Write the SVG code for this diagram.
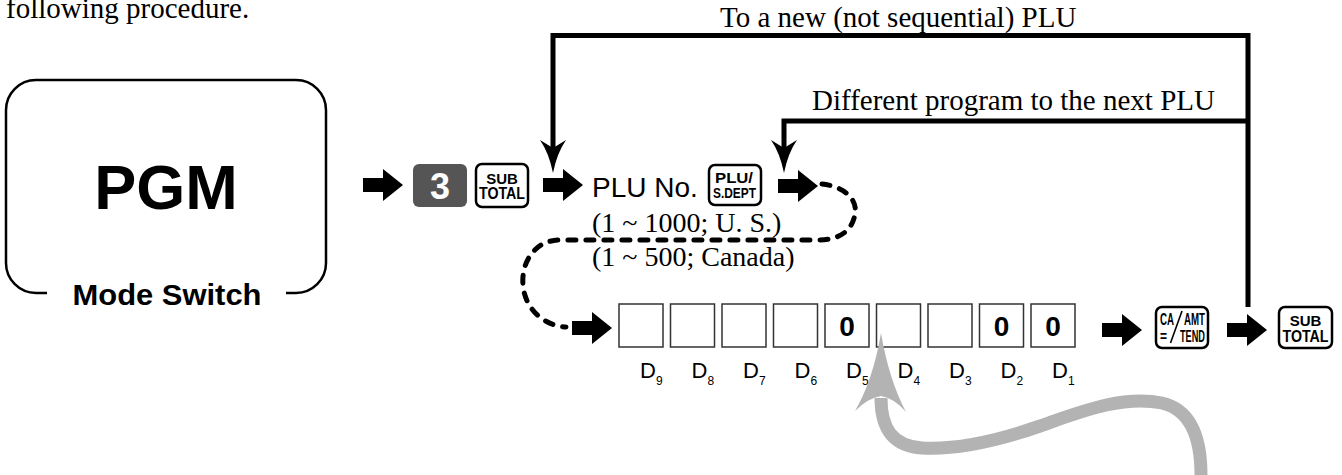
<svg xmlns="http://www.w3.org/2000/svg" xmlns:xlink="http://www.w3.org/1999/xlink" width="1342" height="475" viewBox="0 0 1342 475">
<style>
.serif{font-family:"Liberation Serif","Times New Roman",serif;fill:#000}
.sans{font-family:"Liberation Sans",Arial,sans-serif;fill:#000}
.b{font-weight:bold}
.key{fill:#fff;stroke:#000;stroke-width:2.5}
.box{fill:#fff;stroke:#333;stroke-width:1.5}
.thick{fill:none;stroke:#000;stroke-width:5}
.dash{fill:none;stroke:#000;stroke-width:5;stroke-linecap:round;stroke-dasharray:8 10}
</style>
<defs>
<path id="blk" d="M0,-7 L20,-7 L20,-16 L40,0 L20,16 L20,7 L0,7 Z" fill="#000"/>
<path id="down" d="M0,0 Q-4,-20 -13,-33 L0,-25 L13,-33 Q4,-20 0,0 Z" fill="#000"/>
</defs>
<rect width="1342" height="475" fill="#fff"/>

<text class="serif" x="6" y="18" font-size="29">following procedure.</text>

<g id="mode-switch">
<path d="M47,293 L36,293 A30,30 0 0 1 6,263 L6,110 A30,30 0 0 1 36,80 L296,80 A30,30 0 0 1 326,110 L326,263 A30,30 0 0 1 296,293 L286,293" fill="none" stroke="#000" stroke-width="2.5"/>
<text class="sans b" x="166" y="209" font-size="63" text-anchor="middle">PGM</text>
<text class="sans b" x="167" y="305" font-size="30" text-anchor="middle" textLength="189" lengthAdjust="spacingAndGlyphs">Mode Switch</text>
</g>

<g id="key-3">
<rect x="413" y="164" width="54" height="43" rx="6" fill="#555"/>
<text class="sans b" x="440" y="199" font-size="36" text-anchor="middle" style="fill:#fff">3</text>
</g>

<g id="key-subtotal-1">
<rect class="key" x="476" y="164" width="52" height="43" rx="6"/>
<text class="sans b" x="502" y="184" font-size="15" text-anchor="middle">SUB</text>
<text class="sans b" x="502" y="199" font-size="16" text-anchor="middle" textLength="46" lengthAdjust="spacingAndGlyphs">TOTAL</text>
</g>

<g id="plu-no">
<text class="sans" x="592" y="197" font-size="28">PLU No.</text>
<text class="serif" x="592" y="232" font-size="28">(1 ~ 1000; U. S.)</text>
<text class="serif" x="592" y="266" font-size="28">(1 ~ 500; Canada)</text>
</g>

<g id="key-plu">
<rect class="key" x="709" y="165" width="52" height="40" rx="6"/>
<text class="sans b" x="734" y="183" font-size="15" text-anchor="middle" textLength="38" lengthAdjust="spacingAndGlyphs">PLU/</text>
<text class="sans b" x="734.5" y="198" font-size="15" text-anchor="middle" textLength="43" lengthAdjust="spacingAndGlyphs">S.DEPT</text>
</g>

<g id="digits">
<rect class="box" x="619" y="304" width="44" height="43"/>
<rect class="box" x="670.5" y="304" width="44" height="43"/>
<rect class="box" x="722" y="304" width="44" height="43"/>
<rect class="box" x="773.5" y="304" width="44" height="43"/>
<rect class="box" x="825" y="304" width="44" height="43"/>
<rect class="box" x="876.5" y="304" width="44" height="43"/>
<rect class="box" x="928" y="304" width="44" height="43"/>
<rect class="box" x="979.5" y="304" width="44" height="43"/>
<rect class="box" x="1031" y="304" width="44" height="43"/>
<text class="sans b" x="847" y="335.5" font-size="28" text-anchor="middle">0</text>
<text class="sans b" x="1001.5" y="335.5" font-size="28" text-anchor="middle">0</text>
<text class="sans b" x="1053" y="335.5" font-size="28" text-anchor="middle">0</text>
<g class="sans" font-size="22">
<text x="640" y="378">D<tspan font-size="12" dy="7">9</tspan></text>
<text x="691.5" y="378">D<tspan font-size="12" dy="7">8</tspan></text>
<text x="743" y="378">D<tspan font-size="12" dy="7">7</tspan></text>
<text x="794.5" y="378">D<tspan font-size="12" dy="7">6</tspan></text>
<text x="846" y="378">D<tspan font-size="12" dy="7">5</tspan></text>
<text x="897.5" y="378">D<tspan font-size="12" dy="7">4</tspan></text>
<text x="949" y="378">D<tspan font-size="12" dy="7">3</tspan></text>
<text x="1000.5" y="378">D<tspan font-size="12" dy="7">2</tspan></text>
<text x="1052" y="378">D<tspan font-size="12" dy="7">1</tspan></text>
</g>
</g>

<g id="key-ca">
<rect class="key" x="1156" y="307" width="52" height="41" rx="6"/>
<text class="sans b" x="1160" y="325" font-size="16" textLength="14" lengthAdjust="spacingAndGlyphs">CA</text>
<text class="sans b" x="1184" y="325" font-size="16" textLength="21" lengthAdjust="spacingAndGlyphs">AMT</text>
<text class="sans b" x="1160" y="342" font-size="16" textLength="7" lengthAdjust="spacingAndGlyphs">=</text>
<text class="sans b" x="1180" y="342" font-size="16" textLength="25" lengthAdjust="spacingAndGlyphs">TEND</text>
<line x1="1170.5" y1="343" x2="1182" y2="311" stroke="#000" stroke-width="1.6"/>
</g>

<g id="key-subtotal-2">
<rect class="key" x="1279" y="307" width="53" height="41" rx="6"/>
<text class="sans b" x="1305.5" y="326" font-size="15" text-anchor="middle">SUB</text>
<text class="sans b" x="1305.5" y="342" font-size="16" text-anchor="middle" textLength="46" lengthAdjust="spacingAndGlyphs">TOTAL</text>
</g>

<g id="labels">
<text class="serif" x="720" y="27" font-size="29">To a new (not sequential) PLU</text>
<text class="serif" x="812" y="110" font-size="29">Different program to the next PLU</text>
</g>

<g id="connectors">
<use xlink:href="#blk" x="363" y="185"/>
<use xlink:href="#blk" x="543" y="185"/>
<use xlink:href="#blk" x="778" y="186"/>
<use xlink:href="#blk" x="572" y="328"/>
<use xlink:href="#blk" x="1102" y="330"/>
<use xlink:href="#blk" x="1227" y="330"/>
<path class="dash" d="M822,184 C842,186 858,198 855,214 C852,232 838,240 818,240 L560,240 C535,240 521,262 523,285 C525,310 545,326 566,327"/>
<path class="thick" d="M553,150 L553,35.5 L1248,35.5 L1248,307"/>
<path class="thick" d="M784,150 L784,121 L1248,121"/>
<use xlink:href="#down" x="553" y="173"/>
<use xlink:href="#down" x="784" y="173"/>
<path d="M1201,475 C1201,440 1192,410 1162,403 C1122,395 1080,412 1040,426 C1000,440 960,450 922,448 C892,446 881,428 881,398" fill="none" stroke="#b3b3b3" stroke-width="13"/>
<path d="M881,333 Q873,380 855,411 Q868,398 881,396 Q894,398 906,412 Q889,380 881,333 Z" fill="#b3b3b3"/>
</g>
</svg>
